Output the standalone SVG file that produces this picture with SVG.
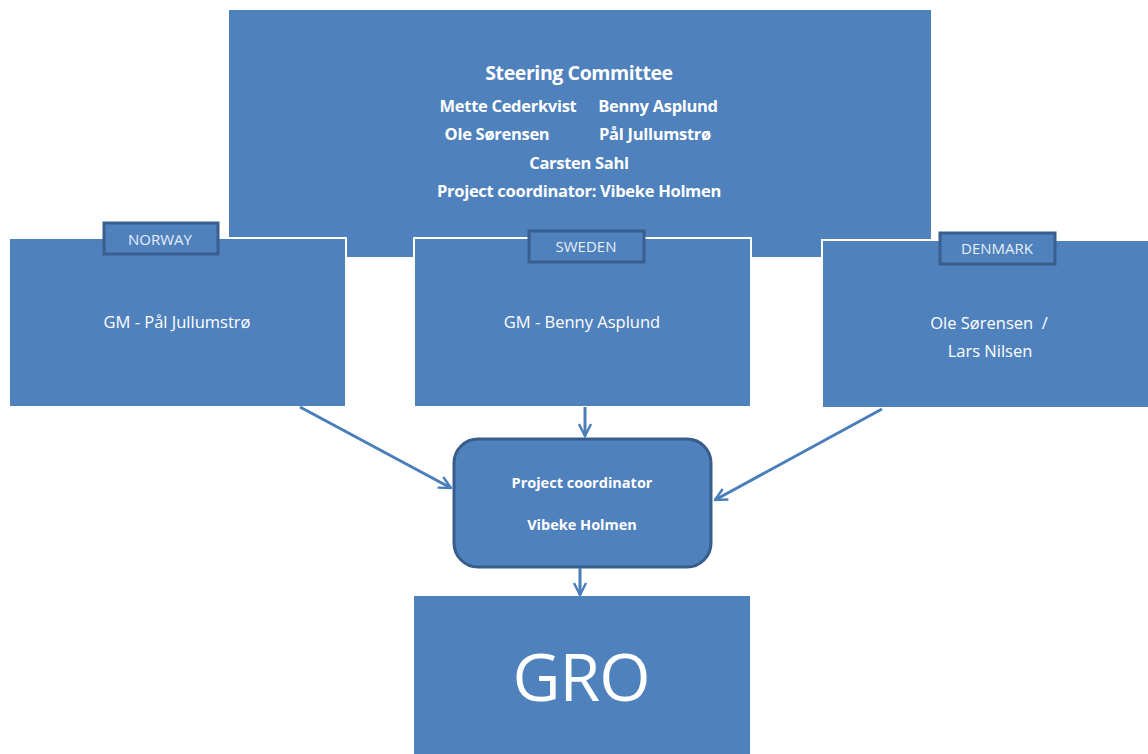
<svg xmlns="http://www.w3.org/2000/svg" width="1148" height="754" viewBox="0 0 1148 754">
<defs>
<style>
.box{fill:#4F81BD;}
.cbox{fill:#4F81BD;stroke:#FFFFFF;stroke-width:2;}
.tab{fill:#4F81BD;stroke:#3A5F8E;stroke-width:3;}
.pc{fill:#4F81BD;stroke:#385D8A;stroke-width:3;}
text{font-family:"Open Sans","Liberation Sans",sans-serif;fill:#FFFFFF;text-anchor:middle;}
.b{font-weight:bold;}
.n{font-size:16.5px;letter-spacing:-0.3px;}
.g{font-size:16.5px;}
.t{font-size:15px;fill:#E6EEF8;}
.conn{stroke:#4A7EBB;stroke-width:3;fill:none;marker-end:url(#ah);}
</style>
<marker id="ah" viewBox="0 0 10 10" refX="9" refY="5" markerWidth="5" markerHeight="5" orient="auto" markerUnits="strokeWidth">
<path d="M1,1 L9,5 L1,9" fill="none" stroke="#4A7EBB" stroke-width="1.6"/>
</marker>
</defs>
<rect width="1148" height="754" fill="#FFFFFF"/>
<g id="steering">
<rect class="box" x="229" y="10" width="702" height="247"/>
<text class="b" x="579" y="80" font-size="19.5" letter-spacing="-0.4">Steering Committee</text>
<text class="b n" x="508" y="112">Mette Cederkvist</text>
<text class="b n" x="658" y="112">Benny Asplund</text>
<text class="b n" x="497" y="140">Ole Sørensen</text>
<text class="b n" x="655" y="140">Pål Jullumstrø</text>
<text class="b n" x="579" y="169">Carsten Sahl</text>
<text class="b n" x="579" y="197">Project coordinator: Vibeke Holmen</text>
</g>
<g id="norway">
<rect class="cbox" x="9" y="238" width="337" height="169"/>
<rect class="tab" x="104" y="223" width="114" height="31"/>
<text class="t" x="160" y="245">NORWAY</text>
<text class="g" x="177" y="328">GM - Pål Jullumstrø</text>
</g>
<g id="sweden">
<rect class="cbox" x="414" y="238" width="337" height="169"/>
<rect class="tab" x="529" y="231" width="115" height="31"/>
<text class="t" x="586" y="252">SWEDEN</text>
<text class="g" x="582" y="328">GM - Benny Asplund</text>
</g>
<g id="denmark">
<rect class="cbox" x="822" y="240" width="330" height="168"/>
<rect class="tab" x="940" y="233" width="115" height="31"/>
<text class="t" x="997" y="254">DENMARK</text>
<text class="g" x="989" y="329" xml:space="preserve">Ole Sørensen  /</text>
<text class="g" x="990" y="357">Lars Nilsen</text>
</g>
<g id="coordinator">
<rect class="pc" x="454" y="439" width="257" height="128" rx="24" ry="24"/>
<text class="b" x="582" y="488" font-size="14.5">Project coordinator</text>
<text class="b" x="582" y="530" font-size="14.5">Vibeke Holmen</text>
</g>
<g id="gro">
<rect class="box" x="414" y="596" width="336" height="158"/>
<text x="581" y="701" font-size="66" letter-spacing="-1">GRO</text>
</g>
<g id="connectors">
<line class="conn" x1="300" y1="407" x2="451" y2="488"/>
<line class="conn" x1="585" y1="407" x2="585" y2="436"/>
<line class="conn" x1="882" y1="409" x2="715" y2="500"/>
<line class="conn" x1="580" y1="568" x2="580" y2="595"/>
</g>
</svg>
